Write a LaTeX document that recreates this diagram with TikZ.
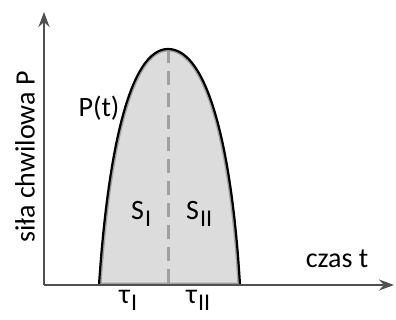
\documentclass[tikz,border=0pt]{standalone}
\usepackage{fontspec}
\setmainfont{Carlito}
\usetikzlibrary{arrows.meta}
\definecolor{polefill}{HTML}{DCDCDC}
\definecolor{poleedge}{HTML}{A0A0A0}
\definecolor{osie}{HTML}{505050}
\newcommand{\idx}[1]{\kern1pt\raisebox{-7pt}{\fontsize{24}{24}\selectfont #1}}
\begin{document}
\begin{tikzpicture}[x=1pt, y=-1pt,
        >={Stealth[length=15pt,width=11pt]},   % Pfeilspitzen
        font=\fontsize{28}{32}\selectfont,
        kurve/.style={line width=2.2pt, black},
        achse/.style={->, line width=1.5pt, osie}]
        \useasboundingbox (0,0) rectangle (396,320);
        % Punkte
        \coordinate (O) at (44,285);
        \coordinate (xend) at (394,285);
        \coordinate (yend) at (44,12);
        \coordinate (start) at (99,285);
        \coordinate (peak) at (168,49);
        \coordinate (stop) at (240,285);
        \coordinate (mid) at (168,285);
        % Flaeche
        \fill[polefill] (start) .. controls (108,150) and (130,49) .. (peak)
            .. controls (208,49) and (232,150) .. (stop) -- cycle;
        \begin{scope}
            \clip (start) .. controls (108,150) and (130,49) .. (peak)
                .. controls (208,49) and (232,150) .. (stop) -- cycle;
            \draw[poleedge, line width=5pt] (start) .. controls (108,150) and (130,49) .. (peak)
                .. controls (208,49) and (232,150) .. (stop) -- cycle;
        \end{scope}
        % Trennlinie
        \draw[poleedge, line width=3pt, dash pattern=on 14pt off 8pt] (peak) -- (mid);
        % Kurve
        \draw[kurve] (start) .. controls (108,150) and (130,49) .. (peak)
            .. controls (208,49) and (232,150) .. (stop);
        % Achsen
        \draw[achse] (O) -- (xend);
        \draw[achse] (O) -- (yend);
        % Beschriftung
        \node (Pt) at (99,108) {P(t)};
        \node[anchor=base west, inner sep=0pt] (S1) at (131,220) {S\idx{I}};
        \node[anchor=base west, inner sep=0pt] (S2) at (186,220) {S\idx{II}};
        \node[anchor=base] (czas) at (337,268) {czas t};
        \node[anchor=base west, inner sep=0pt] (tau1) at (119,303) {τ\idx{I}};
        \node[anchor=base west, inner sep=0pt] (tau2) at (186,303) {τ\idx{II}};
        \node[rotate=90] (sila) at (25,157) {siła chwilowa P};
\end{tikzpicture}
\end{document}
